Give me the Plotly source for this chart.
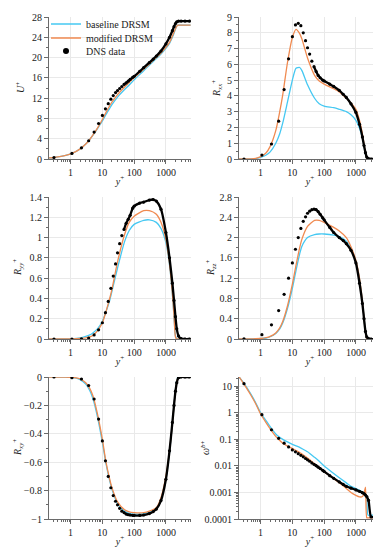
import plotly.graph_objects as go

# ---------------- data ----------------
# common y+ grid of the model (DRSM) curves
model_y = [0.2, 0.3, 0.5, 0.7, 1, 1.5, 2, 3, 4, 5, 7, 10, 13, 17, 20, 30, 50, 70, 100,
           200, 300, 500, 700, 1000, 1300, 1600, 1800, 2000, 2200, 2400, 3000, 6000]
# y+ of the DNS samples
dns_y = [0.3, 1.1, 2.2, 3.7, 5.5, 7.6, 10, 12.5, 15.3, 18.5, 22, 26, 30, 35, 41, 48, 56, 65,
         75, 90, 100, 150, 200, 300, 400, 500, 700, 1000, 1300, 1600, 1800, 2000, 2200,
         2500, 3000, 4000, 5500]

# U+
u_base = [0.2, 0.3, 0.5, 0.7, 1.0, 1.5, 2.0, 2.95, 3.85, 4.65, 6.0, 7.5, 8.8, 10.0, 10.7,
          12.2, 13.7, 14.6, 15.6, 17.4, 18.5, 19.8, 20.7, 21.8, 22.8, 24.0, 24.8, 25.6,
          26.2, 26.4, 26.4, 26.4]
u_mod = [0.2, 0.3, 0.5, 0.7, 1.0, 1.5, 2.0, 2.95, 3.85, 4.7, 6.1, 7.8, 9.2, 10.5, 11.2,
         12.7, 14.2, 15.1, 16.0, 17.7, 18.7, 20.0, 20.9, 22.0, 23.0, 24.2, 25.0, 25.7,
         26.2, 26.4, 26.4, 26.4]
u_dns = [0.3, 1.1, 2.2, 3.6, 5.3, 7.0, 8.6, 9.9, 10.9, 11.8, 12.5, 13.1, 13.5, 13.9, 14.3,
         14.7, 15.0, 15.35, 15.7, 16.1, 16.3, 17.3, 18.0, 19.0, 19.7, 20.3, 21.3, 22.7,
         24.0, 25.3, 26.1, 26.7, 27.05, 27.2, 27.2, 27.2, 27.2]

# R_xx+
rxx_base = [0, 0, 0.01, 0.03, 0.1, 0.25, 0.45, 1.0, 1.6, 2.3, 3.6, 5.0, 5.75, 5.8, 5.6,
            4.7, 3.85, 3.5, 3.35, 3.25, 3.15, 3.0, 2.8, 2.45, 1.95, 1.35, 0.85, 0.3,
            0.04, 0, 0, 0]
rxx_mod = [0, 0.001, 0.01, 0.04, 0.15, 0.4, 0.8, 1.8, 3.0, 4.1, 6.1, 7.7, 8.22, 7.95, 7.6,
           6.4, 5.3, 4.95, 4.75, 4.45, 4.25, 3.85, 3.55, 3.15, 2.45, 1.6, 0.95, 0.35,
           0.05, 0, 0, 0]
rxx_dns = [0.0, 0.25, 0.95, 2.4, 4.4, 6.35, 7.75, 8.5, 8.6, 8.45, 8.0, 7.5, 7.05, 6.65,
           6.2, 5.85, 5.55, 5.3, 5.15, 5.0, 4.95, 4.75, 4.6, 4.35, 4.1, 3.9, 3.5, 2.95,
           2.2, 1.4, 0.85, 0.4, 0.12, 0.02, 0, 0, 0]

# R_yy+
ryy_base = [0, 0, 0, 0, 0.002, 0.005, 0.01, 0.025, 0.04, 0.06, 0.1, 0.175, 0.27, 0.38,
            0.47, 0.7, 0.96, 1.07, 1.13, 1.17, 1.175, 1.15, 1.09, 0.95, 0.73, 0.44, 0.22,
            0.03, 0, 0, 0, 0]
ryy_mod = [0, 0, 0, 0, 0.001, 0.003, 0.005, 0.012, 0.022, 0.035, 0.08, 0.16, 0.27, 0.4,
           0.49, 0.76, 1.03, 1.15, 1.21, 1.265, 1.265, 1.23, 1.15, 0.98, 0.74, 0.45,
           0.23, 0.02, 0, 0, 0, 0]
ryy_dns = [0, 0, 0.002, 0.01, 0.04, 0.09, 0.16, 0.26, 0.37, 0.5, 0.62, 0.74, 0.85, 0.94,
           1.02, 1.08, 1.14, 1.18, 1.22, 1.29, 1.31, 1.34, 1.35, 1.37, 1.375, 1.36, 1.28,
           1.05, 0.8, 0.55, 0.38, 0.22, 0.1, 0.03, 0.005, 0, 0]

# R_zz+
rzz_base = [0, 0, 0.002, 0.005, 0.01, 0.02, 0.045, 0.11, 0.2, 0.32, 0.6, 1.0, 1.35, 1.68,
            1.83, 2.0, 2.06, 2.07, 2.07, 2.05, 2.02, 1.93, 1.78, 1.52, 1.18, 0.73, 0.42,
            0.12, 0.01, 0, 0, 0]
rzz_mod = [0, 0, 0.002, 0.005, 0.01, 0.025, 0.05, 0.12, 0.22, 0.35, 0.65, 1.08, 1.45, 1.8,
           1.97, 2.22, 2.34, 2.34, 2.3, 2.2, 2.13, 2.0, 1.82, 1.55, 1.2, 0.75, 0.42, 0.12,
           0.01, 0, 0, 0]
rzz_dns = [0.005, 0.085, 0.28, 0.56, 0.88, 1.2, 1.5, 1.77, 2.0, 2.18, 2.32, 2.41, 2.48,
           2.52, 2.55, 2.56, 2.55, 2.51, 2.46, 2.39, 2.35, 2.2, 2.1, 2.0, 1.94, 1.88, 1.75,
           1.5, 1.1, 0.7, 0.4, 0.15, 0.04, 0.01, 0, 0, 0]

# R_xy+
rxy_base = [0, 0, 0, 0, -0.003, -0.008, -0.018, -0.05, -0.095, -0.15, -0.28, -0.46, -0.61,
            -0.73, -0.79, -0.89, -0.945, -0.96, -0.965, -0.962, -0.95, -0.925, -0.86, -0.72,
            -0.53, -0.33, -0.2, -0.09, -0.02, 0, 0, 0]
rxy_mod = [0, 0, 0, 0, -0.002, -0.006, -0.014, -0.04, -0.08, -0.13, -0.26, -0.44, -0.6,
           -0.72, -0.78, -0.88, -0.935, -0.95, -0.955, -0.955, -0.945, -0.92, -0.85, -0.7,
           -0.52, -0.33, -0.2, -0.1, -0.03, 0, 0, 0]
rxy_dns = [0, -0.005, -0.014, -0.06, -0.155, -0.296, -0.45, -0.59, -0.7, -0.78, -0.835,
           -0.875, -0.9, -0.925, -0.945, -0.955, -0.965, -0.97, -0.972, -0.974, -0.975,
           -0.975, -0.972, -0.962, -0.948, -0.93, -0.87, -0.72, -0.52, -0.32, -0.2, -0.1,
           -0.04, -0.005, 0, 0, 0]

# omega^b+
w_base = [24, 13, 5, 2.4, 1.0, 0.5, 0.3, 0.16, 0.12, 0.1, 0.08, 0.065, 0.057, 0.05, 0.045,
          0.034, 0.021, 0.015, 0.01, 0.0052, 0.0036, 0.0023, 0.0017, 0.0014, 0.0012,
          0.00105, 0.00095, 0.0008, 0.0006, 0.00014, 0.00014, 0.00014]
w_mod = [25, 12, 4.5, 2.2, 0.9, 0.42, 0.25, 0.13, 0.09, 0.072, 0.056, 0.045, 0.038, 0.032,
         0.028, 0.02, 0.012, 0.0085, 0.006, 0.0033, 0.0023, 0.0014, 0.001, 0.00078,
         0.00068, 0.0007, 0.0009, 0.0016, 0.00011, 0.00011, 0.00011, 0.00011]
w_dns = [12.5, 0.85, 0.23, 0.11, 0.072, 0.052, 0.04, 0.034, 0.029, 0.025, 0.022, 0.019,
         0.017, 0.015, 0.013, 0.0115, 0.0102, 0.009, 0.008, 0.0068, 0.0062, 0.0043, 0.0034,
         0.0025, 0.002, 0.0017, 0.00145, 0.00125, 0.0011, 0.00098, 0.0009, 0.0008, 0.0007,
         0.0005, 0.00012, 0.00012, 0.00012]

x_tickvals = [1, 10, 100, 1000]
x_ticktext = ["1", "10", "100", "1000"]
w_tickvals = [0.0001, 0.001, 0.01, 0.1, 1, 10]
w_ticktext = ["0.0001", "0.001", "0.01", "0.1", "1", "10"]

series_names = ["baseline DRSM", "modified DRSM", "DNS data"]
x_title = "<i>y</i><sup>+</sup>"

panels = [
    dict(base=u_base, mod=u_mod, dns=u_dns, title="<i>U</i><sup>+</sup>",
         yrange=[0, 28], dtick=4, minor=2, tx=12),
    dict(base=rxx_base, mod=rxx_mod, dns=rxx_dns,
         title="<i>R</i><sub><i>xx</i></sub><sup>+</sup>", yrange=[0, 9], dtick=1, minor=0.5,
         tx=209),
    dict(base=ryy_base, mod=ryy_mod, dns=ryy_dns,
         title="<i>R</i><sub><i>yy</i></sub><sup>+</sup>", yrange=[0, 1.4], dtick=0.2,
         minor=0.1, tx=10),
    dict(base=rzz_base, mod=rzz_mod, dns=rzz_dns,
         title="<i>R</i><sub><i>zz</i></sub><sup>+</sup>", yrange=[0, 2.8], dtick=0.4,
         minor=0.2, tx=203),
    dict(base=rxy_base, mod=rxy_mod, dns=rxy_dns,
         title="<i>R</i><sub><i>xy</i></sub><sup>+</sup>", yrange=[-1, 0], dtick=0.2,
         minor=0.1, tx=10),
    dict(base=w_base, mod=w_mod, dns=w_dns, title="<i>ω</i><sup><i>b</i>+</sup>",
         yrange=[-4, 1.35], log=True, tx=197),
]

# ---------------- style ----------------
W, H = 381, 550
CYAN = "#45c8f2"
ORANGE = "#f08a50"
FONT = "Liberation Serif, DejaVu Serif, serif"
TXT = "#222222"
GRID = "#e9e9e9"
AXIS = "#6a6a6a"
DENSE_FROM = 45
FS = 10

col_px = [(41, 183), (231, 373)]
row_px = [(9, 151), (189, 331), (369, 511)]

log_minor = [m * 10 ** e for e in range(-4, 4) for m in range(2, 10)]

fig = go.Figure()
layout = dict(width=W, height=H, autosize=False,
              margin=dict(l=0, r=0, t=0, b=0),
              paper_bgcolor="white", plot_bgcolor="white",
              font=dict(family=FONT, size=FS, color=TXT),
              showlegend=True)
annotations = []

for i, p in enumerate(panels):
    n = i + 1
    xa = "x" if n == 1 else f"x{n}"
    ya = "y" if n == 1 else f"y{n}"
    c, r = i % 2, i // 2
    xd = [col_px[c][0] / W, col_px[c][1] / W]
    yd = [1 - row_px[r][1] / H, 1 - row_px[r][0] / H]

    fig.add_trace(go.Scatter(x=model_y, y=p["base"], mode="lines", xaxis=xa, yaxis=ya,
                             line=dict(color=CYAN, width=1.3, shape="spline", smoothing=0.6),
                             name=series_names[0], showlegend=(n == 1), legend="legend"))
    fig.add_trace(go.Scatter(x=model_y, y=p["mod"], mode="lines", xaxis=xa, yaxis=ya,
                             line=dict(color=ORANGE, width=1.3, shape="spline", smoothing=0.6),
                             name=series_names[1], showlegend=(n == 1), legend="legend2"))
    dense_x = [x for x in dns_y if x >= DENSE_FROM]
    dense_v = [v for x, v in zip(dns_y, p["dns"]) if x >= DENSE_FROM]
    fig.add_trace(go.Scatter(x=dense_x, y=dense_v, mode="lines", xaxis=xa, yaxis=ya,
                             line=dict(color="black", width=2.3, shape="spline", smoothing=0.6),
                             showlegend=False, hoverinfo="skip"))
    fig.add_trace(go.Scatter(x=dns_y, y=p["dns"], mode="markers", xaxis=xa, yaxis=ya,
                             marker=dict(color="black", size=3.2),
                             name=series_names[2], showlegend=False))
    if n == 1:
        fig.add_trace(go.Scatter(x=[None], y=[None], mode="markers", xaxis=xa, yaxis=ya,
                                 marker=dict(color="black", size=6),
                                 name=series_names[2], showlegend=True, legend="legend3"))

    xkey = "xaxis" if n == 1 else f"xaxis{n}"
    ykey = "yaxis" if n == 1 else f"yaxis{n}"
    layout[xkey] = dict(
        type="log", domain=xd, anchor=ya, range=[-0.68, 3.79],
        tickmode="array", tickvals=x_tickvals, ticktext=x_ticktext,
        showgrid=True, gridcolor=GRID, gridwidth=1, zeroline=False,
        showline=True, linecolor=AXIS, linewidth=1,
        ticks="outside", ticklen=4, tickcolor=AXIS, tickwidth=1,
        minor=dict(tickmode="array", tickvals=log_minor, ticks="outside", ticklen=2,
                   tickcolor=AXIS, showgrid=False),
        tickfont=dict(family=FONT, size=FS, color=TXT),
        title=dict(text=x_title, standoff=0, font=dict(family=FONT, size=FS, color=TXT)),
        automargin=False, fixedrange=True,
    )
    yax = dict(
        domain=yd, anchor=xa,
        showgrid=True, gridcolor=GRID, gridwidth=1, zeroline=False,
        showline=True, linecolor=AXIS, linewidth=1,
        ticks="outside", ticklen=4, tickcolor=AXIS, tickwidth=1,
        tickfont=dict(family=FONT, size=FS, color=TXT),
        automargin=False, fixedrange=True,
    )
    if p.get("log"):
        yax.update(type="log", range=p["yrange"], tickmode="array",
                   tickvals=w_tickvals, ticktext=w_ticktext,
                   minor=dict(tickmode="array", tickvals=log_minor, ticks="outside",
                              ticklen=2, tickcolor=AXIS, showgrid=False))
    else:
        yax.update(range=p["yrange"], tickmode="linear", tick0=0, dtick=p["dtick"],
                   minor=dict(dtick=p["minor"], ticks="outside", ticklen=2,
                              tickcolor=AXIS, showgrid=False))
    layout[ykey] = yax

    # y-axis title as rotated text at a fixed place (as in the reference)
    annotations.append(dict(text=p["title"], textangle=-90, showarrow=False,
                            xref="paper", yref="paper", x=p["tx"] / W,
                            y=sum(yd) / 2, xanchor="center", yanchor="middle",
                            font=dict(family=FONT, size=FS, color=TXT)))

legend_rows = [16, 30, 43]
for k, key in enumerate(["legend", "legend2", "legend3"]):
    layout[key] = dict(x=38 / W, y=1 - legend_rows[k] / H, xanchor="left", yanchor="middle",
                       bgcolor="rgba(0,0,0,0)", borderwidth=0,
                       font=dict(family=FONT, size=FS, color=TXT), itemwidth=30)

# white patch behind the legend (hides the grid there, like the reference)
layout["shapes"] = [dict(type="rect", xref="paper", yref="paper", layer="between",
                         x0=42 / W, x1=142 / W, y0=1 - 50 / H, y1=1 - 10 / H,
                         fillcolor="white", line=dict(width=0))]
layout["annotations"] = annotations
fig.update_layout(**layout)
fig.write_html("out.html")
